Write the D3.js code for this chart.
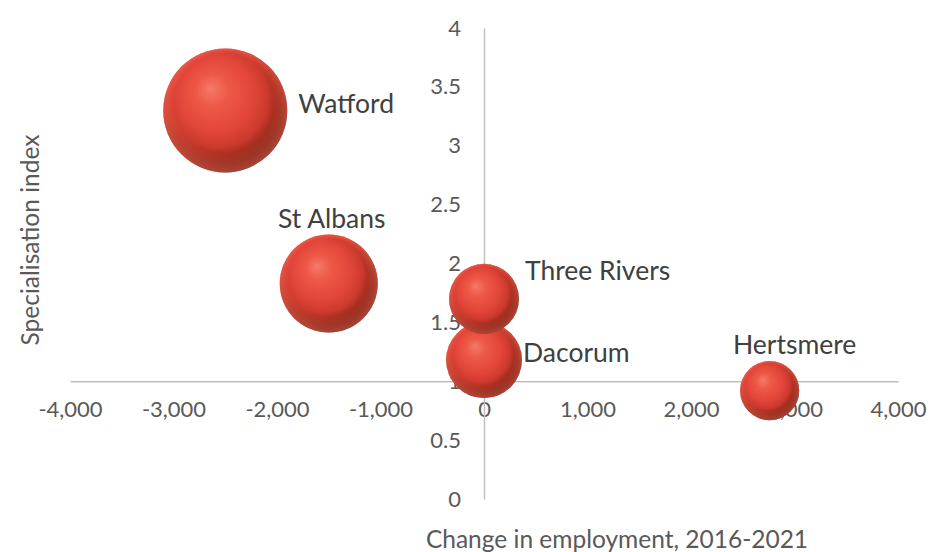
<!DOCTYPE html>
<html>
<head>
<meta charset="utf-8">
<script src="https://cdn.jsdelivr.net/npm/d3@7/dist/d3.min.js"></script>
<style>
  html, body { margin: 0; padding: 0; background: #ffffff; }
  svg { display: block; }
  text { font-family: Lato, "Open Sans", sans-serif; }
</style>
</head>
<body>
<div id="chart"></div>
<script>
// ---- Data ----
const areas = ["Watford", "St Albans", "Dacorum", "Three Rivers", "Hertsmere"];
const employmentChange = [-2500, -1500, 0, 0, 2760];
const specialisation = [3.3, 1.83, 1.18, 1.70, 0.92];
const bubbleSize = [4400, 2750, 1650, 1400, 1000];
const xTicks = [-4000, -3000, -2000, -1000, 0, 1000, 2000, 3000, 4000];
const yTicks = [0, 0.5, 1, 1.5, 2, 2.5, 3, 3.5, 4];
const xTitle = "Change in employment, 2016-2021";
const yTitle = "Specialisation index";

// label placement (pixel offsets from bubble centre)
const labelPos = {
  "Watford":      {dx: 73,  dy: -7,  anchor: "start"},
  "St Albans":    {dx: 3,   dy: -65, anchor: "middle"},
  "Dacorum":      {dx: 39,  dy: -7,  anchor: "start"},
  "Three Rivers": {dx: 41,  dy: -28, anchor: "start"},
  "Hertsmere":    {dx: 25,  dy: -46, anchor: "middle"}
};

const W = 932, H = 552;
const svg = d3.select("#chart").append("svg").attr("width", W).attr("height", H);

const x = d3.scaleLinear().domain([-4000, 4000]).range([70, 898]);
const y = d3.scaleLinear().domain([0, 4]).range([499, 28]);
const r = d3.scaleSqrt().domain([0, d3.max(bubbleSize)]).range([0, 62]);

const defs = svg.append("defs");
const grad = defs.append("radialGradient").attr("id", "sphere")
  .attr("cx", "46%").attr("cy", "42%").attr("r", "60%")
  .attr("fx", "38%").attr("fy", "32%");
[["0%", "#f47a68"], ["22%", "#ee5846"], ["50%", "#e2463a"], ["68%", "#cc3a2d"], ["82%", "#962819"], ["100%", "#3a0f08"]]
  .forEach(s => grad.append("stop").attr("offset", s[0]).attr("stop-color", s[1]));
const rim = defs.append("radialGradient").attr("id", "rim")
  .attr("cx", "50%").attr("cy", "50%").attr("r", "50%")
  .attr("fx", "45%").attr("fy", "20%");
[["0%", "rgba(255,110,90,0)"], ["80%", "rgba(255,110,90,0)"], ["100%", "rgba(255,110,90,0.55)"]]
  .forEach(s => rim.append("stop").attr("offset", s[0]).attr("stop-color", s[1]));

const minusLocale = d3.formatLocale({decimal: ".", thousands: ",", grouping: [3], currency: ["", ""], minus: "-"});
const fmtX = minusLocale.format(",");

// X axis at y = 1
const gx = svg.append("g").attr("transform", `translate(0,${y(1)})`)
  .call(d3.axisBottom(x).tickValues(xTicks).tickFormat(fmtX).tickSize(0).tickSizeOuter(0).tickPadding(20));
// Y axis at x = 0
const gy = svg.append("g").attr("transform", `translate(${x(0)},0)`)
  .call(d3.axisLeft(y).tickValues(yTicks).tickFormat(d3.format("")).tickSize(0).tickSizeOuter(0).tickPadding(23));

[gx, gy].forEach(g => {
  g.select(".domain").attr("stroke", "#bfbfbf").attr("stroke-width", 1.5);
  g.selectAll(".tick text").attr("fill", "#595959").attr("font-size", 22)
    .attr("font-family", "Lato, sans-serif");
});

// Axis titles
svg.append("text").attr("x", 617).attr("y", 548).attr("text-anchor", "middle")
  .attr("fill", "#595959").attr("font-size", 24.5).text(xTitle);
svg.append("text").attr("transform", `translate(39,240) rotate(-90)`).attr("text-anchor", "middle")
  .attr("fill", "#595959").attr("font-size", 24.5).text(yTitle);

// Bubbles
const data = areas.map((a, i) => ({name: a, x: employmentChange[i], y: specialisation[i], s: bubbleSize[i]}));
const g = svg.append("g");
const nodes = g.selectAll("g.b").data(data).join("g").attr("class", "b")
  .attr("transform", d => `translate(${x(d.x)},${y(d.y)})`);
nodes.append("circle").attr("r", d => r(d.s)).attr("fill", "url(#sphere)");
nodes.append("circle").attr("r", d => r(d.s)).attr("fill", "url(#rim)");

// Labels
svg.append("g").selectAll("text").data(data).join("text")
  .attr("x", d => x(d.x) + labelPos[d.name].dx)
  .attr("y", d => y(d.y) + labelPos[d.name].dy)
  .attr("dy", "0.35em")
  .attr("text-anchor", d => labelPos[d.name].anchor)
  .attr("fill", "#404040").attr("font-size", 26.5)
  .text(d => d.name);
</script>
</body>
</html>
